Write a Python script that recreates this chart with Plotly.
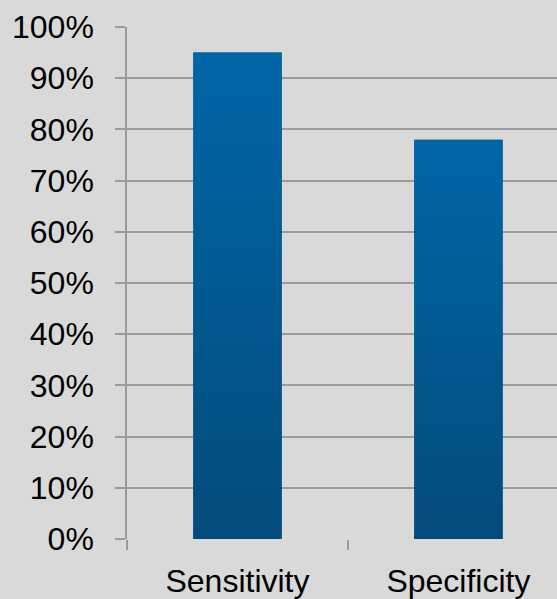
import plotly.graph_objects as go

categories = ["Sensitivity", "Specificity"]
values = [0.95, 0.78]
y_ticks = [0, 0.1, 0.2, 0.3, 0.4, 0.5, 0.6, 0.7, 0.8, 0.9, 1.0]
y_tick_labels = ["0%", "10%", "20%", "30%", "40%", "50%", "60%", "70%", "80%", "90%", "100%"]

BAR_W = 0.4
TOP_C = "#0066a6"
BOT_C = "#034b7b"
BG = "#d9d9d9"
GRID = "#9a9a9a"
FONT = "Liberation Sans, Arial, sans-serif"

xpos = list(range(len(categories)))

fig = go.Figure()
fig.add_trace(go.Bar(x=xpos, y=values, width=BAR_W, marker=dict(color="#02578f", line=dict(width=0)),
                     hoverinfo="skip", showlegend=False))
for xi, v in zip(xpos, values):
    fig.add_trace(go.Scatter(
        x=[xi - BAR_W / 2, xi + BAR_W / 2, xi + BAR_W / 2, xi - BAR_W / 2, xi - BAR_W / 2],
        y=[0, 0, v, v, 0],
        mode="lines", line=dict(width=0), fill="toself",
        fillgradient=dict(type="vertical", colorscale=[[0, BOT_C], [1, TOP_C]]),
        showlegend=False, hoverinfo="skip"))

fig.update_layout(
    width=557, height=599,
    margin=dict(l=127, r=0, t=27, b=60),
    paper_bgcolor=BG, plot_bgcolor=BG,
    font=dict(family=FONT, size=32, color="#000000"),
    showlegend=False,
)
fig.update_yaxes(
    range=[0, 1], tickvals=y_ticks, ticktext=y_tick_labels,
    showgrid=True, gridcolor=GRID, gridwidth=1.5,
    ticks="outside", ticklen=10, tickcolor=GRID, tickwidth=1.5,
    showline=True, linecolor=GRID, linewidth=1.5,
    zeroline=False, ticklabelstandoff=15,
    tickfont=dict(size=32),
)
fig.update_xaxes(
    range=[-0.5, 1.446], tickvals=xpos, ticktext=categories,
    ticks="", showgrid=False, zeroline=False, showline=False,
    minor=dict(tickvals=[-0.5, 0.5, 1.5], ticks="outside", ticklen=10, tickcolor=GRID,
               tickwidth=1.5, showgrid=False),
    ticklabelstandoff=20,
    tickfont=dict(size=32),
)

fig.write_html("out.html")
